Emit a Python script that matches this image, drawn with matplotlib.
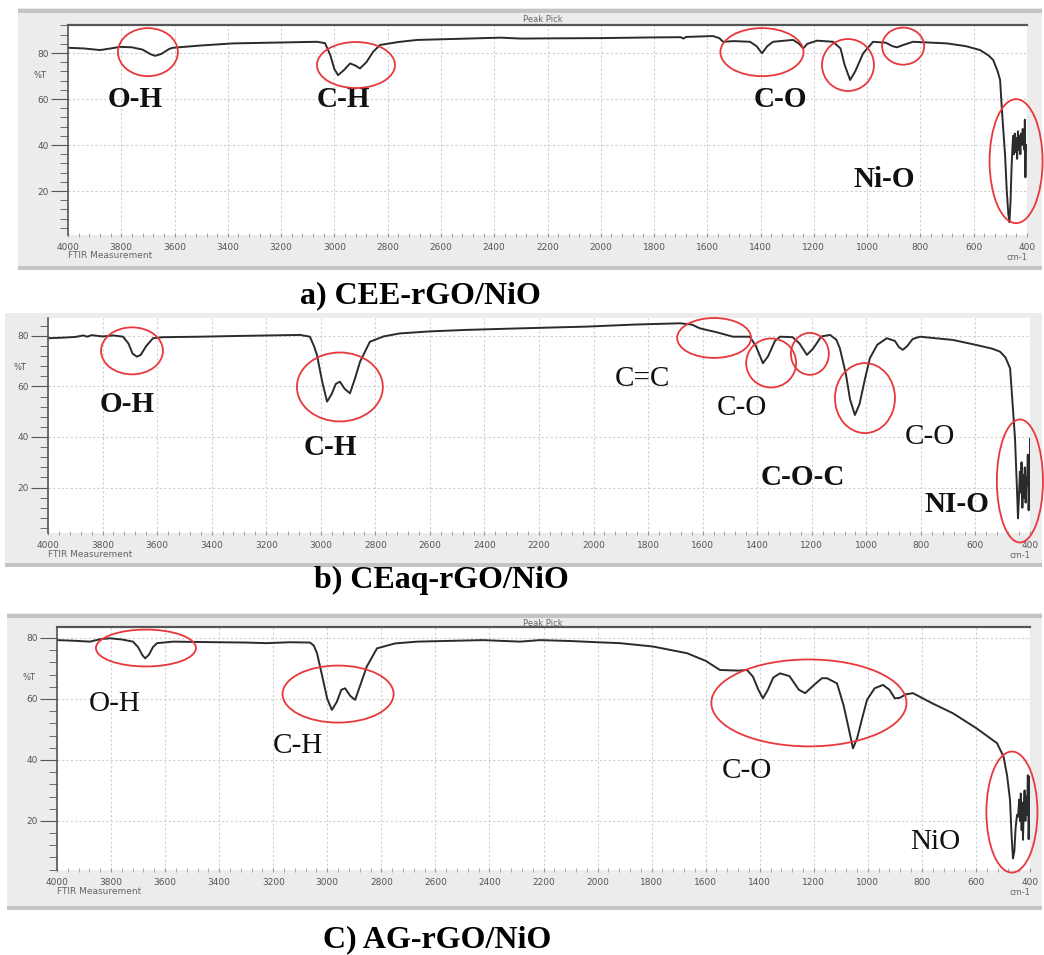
import matplotlib
matplotlib.use("Agg")
import matplotlib.pyplot as plt
from matplotlib.patches import Ellipse, Rectangle
from matplotlib.ticker import MultipleLocator

plt.rcParams["font.family"] = ["DejaVu Sans"]

W, H = 1044, 955

# ---- spectra (wavenumber cm-1, %T) ----
wn_a = [4000, 3940, 3880, 3840, 3805, 3760, 3720, 3690, 3673, 3650, 3620, 3606, 3500, 3380,
        3200, 3065, 3035, 3015, 3000, 2986, 2965, 2941, 2920, 2904, 2880, 2855, 2829, 2760,
        2690, 2500, 2378, 2300, 2179, 2000, 1804, 1700, 1690, 1680, 1579, 1555, 1541, 1500,
        1440, 1415, 1395, 1375, 1353, 1300, 1278, 1255, 1240, 1225, 1188, 1128, 1100, 1085,
        1064, 1045, 1015, 978, 930, 905, 888, 865, 828, 700, 630, 576, 545, 527, 510, 501,
        494, 488, 482, 476, 470, 466, 462, 458, 455, 452, 449, 446, 443, 440, 437, 434, 431,
        428, 425, 422, 419, 416, 413, 410, 408, 406, 404]
t_a = [82.3, 82.0, 81.3, 82.0, 82.7, 82.5, 81.5, 79.5, 78.8, 79.6, 81.8, 82.3, 83.3, 84.2,
       84.6, 84.9, 84.3, 79.0, 73.0, 70.4, 72.5, 75.5, 74.5, 73.3, 76.0, 80.5, 83.5, 84.8,
       85.7, 86.3, 86.7, 86.3, 86.4, 86.5, 86.8, 86.9, 86.3, 87.0, 87.4, 86.5, 84.9, 85.2,
       84.9, 83.0, 79.9, 83.0, 84.9, 85.5, 85.7, 84.0, 82.0, 84.0, 85.4, 84.9, 82.0, 75.0,
       68.3, 72.0, 79.9, 84.9, 84.5, 83.0, 82.5, 83.5, 84.9, 84.2, 83.0, 81.3, 79.0, 77.0,
       72.0, 68.3, 55.0, 45.0, 35.0, 20.0, 10.0, 6.5, 15.0, 30.0, 38.0, 44.0, 36.0, 45.0,
       37.0, 43.0, 34.0, 46.0, 38.0, 44.0, 36.0, 45.0, 40.0, 47.0, 42.0, 38.0, 51.0, 26.0, 40.0]

wn_b = [4000, 3950, 3900, 3870, 3857, 3840, 3800, 3760, 3725, 3705, 3690, 3674, 3660, 3640,
        3615, 3580, 3443, 3300, 3076, 3040, 3025, 3014, 2995, 2977, 2960, 2945, 2930, 2912,
        2893, 2875, 2856, 2820, 2770, 2710, 2600, 2464, 2270, 2024, 1850, 1683, 1640, 1610,
        1550, 1489, 1427, 1405, 1379, 1360, 1335, 1316, 1270, 1245, 1218, 1195, 1165, 1133,
        1110, 1097, 1075, 1060, 1042, 1025, 1005, 987, 960, 925, 895, 880, 866, 850, 830, 803,
        700, 682, 600, 540, 510, 490, 473, 465, 455, 448, 444, 441, 437, 434, 431, 428, 425,
        422, 419, 416, 413, 411, 408, 405, 402, 399, 397]
t_b = [79.1, 79.3, 79.6, 80.2, 79.7, 80.3, 79.8, 80.2, 79.7, 77.0, 73.0, 71.8, 72.5, 76.0,
       79.1, 79.5, 79.7, 80.0, 80.4, 79.7, 76.0, 72.5, 62.0, 54.0, 57.0, 61.0, 61.9, 59.0,
       57.3, 63.0, 69.8, 77.7, 79.8, 81.0, 81.8, 82.4, 83.0, 83.7, 84.5, 85.0, 84.5, 83.0,
       81.5, 79.7, 79.7, 76.0, 69.2, 72.0, 78.0, 79.7, 79.5, 77.0, 72.5, 75.0, 79.8, 80.4,
       78.5, 75.1, 65.0, 55.0, 48.7, 53.0, 63.0, 71.2, 76.5, 79.1, 78.0, 75.5, 74.5, 76.0,
       78.8, 79.7, 78.6, 78.4, 76.5, 75.0, 73.8, 71.5, 67.2, 55.0, 39.5, 20.0, 7.8, 15.0,
       26.3, 18.0, 30.0, 12.0, 25.0, 16.0, 28.0, 14.0, 24.0, 21.0, 33.0, 11.0, 24.0, 39.5, 13.0]

wn_c = [4000, 3940, 3878, 3840, 3804, 3760, 3719, 3700, 3685, 3674, 3660, 3645, 3630, 3571,
        3400, 3300, 3224, 3140, 3064, 3050, 3038, 3020, 3000, 2983, 2965, 2948, 2934, 2915,
        2897, 2880, 2854, 2816, 2750, 2668, 2424, 2287, 2213, 2100, 2000, 1917, 1795, 1669,
        1600, 1547, 1480, 1447, 1425, 1405, 1388, 1370, 1350, 1325, 1290, 1255, 1232, 1200,
        1170, 1151, 1114, 1090, 1070, 1055, 1040, 1020, 1003, 975, 944, 920, 900, 881, 860,
        833, 760, 685, 600, 522, 498, 485, 474, 468, 463, 458, 453, 448, 444, 440, 437, 434,
        431, 428, 426, 423, 420, 417, 414, 411, 408, 405, 402, 400]
t_c = [79.3, 79.1, 78.8, 79.6, 79.9, 79.5, 78.8, 77.0, 74.5, 73.3, 74.5, 77.0, 78.3, 78.8,
       78.6, 78.5, 78.3, 78.6, 78.5, 77.5, 75.0, 68.0, 60.0, 56.4, 59.0, 63.0, 63.5, 61.0,
       59.7, 64.0, 70.6, 76.6, 78.2, 78.8, 79.3, 78.8, 79.3, 79.0, 78.6, 78.3, 77.2, 75.0,
       72.5, 69.5, 69.3, 69.5, 67.3, 63.0, 60.2, 63.0, 67.0, 68.4, 67.5, 63.0, 61.9, 64.5,
       66.8, 66.8, 65.1, 58.0, 50.0, 43.8, 47.0, 54.0, 59.7, 63.5, 64.6, 63.0, 60.2, 60.4,
       61.5, 61.9, 58.5, 55.3, 50.5, 45.5, 41.1, 35.0, 26.9, 15.0, 7.7, 10.0, 18.0, 22.0,
       21.4, 27.0, 20.0, 29.0, 17.0, 26.0, 13.8, 24.0, 30.0, 20.0, 28.0, 22.0, 35.0, 14.0,
       30.0, 34.5]

# ---- band marks: (centre wn, centre %T, width wn, height %T) ----
rings_a = [(3700, 80.4, 225, 20.9), (2919, 74.8, 293, 20.0), (1395, 80.4, 312, 20.9),
           (1072, 74.8, 195, 22.6), (865, 83.0, 158, 16.1), (441, 33.0, 199, 53.9)]
rings_b = [(3692, 74.1, 227, 18.6), (2930, 59.8, 315, 27.3), (1558, 79.2, 271, 15.8),
           (1349, 69.3, 183, 19.4), (1207, 72.9, 139, 16.6), (1005, 55.4, 220, 27.7),
           (437, 22.6, 169, 48.7)]
rings_c = [(3671, 76.7, 370, 12.1), (2960, 61.6, 411, 18.7), (1218, 58.7, 722, 28.5),
           (467, 22.9, 189, 39.7)]

# band labels: (text, wn, %T, bold)
labels_a = [("O-H", 3748, 59.6, True), ("C-H", 2968, 59.6, True),
            ("C-O", 1327, 59.6, True), ("Ni-O", 937, 25.2, True)]
labels_b = [("O-H", 3710, 52.7, True), ("C-H", 2966, 36.0, True),
            ("C=C", 1819, 63.0, False), ("C-O", 1456, 51.5, False),
            ("C-O", 767, 40.0, False), ("C-O-C", 1232, 23.8, True),
            ("NI-O", 668, 13.1, True)]
labels_c = [("O-H", 3785, 58.4, False), ("C-H", 3108, 44.6, False),
            ("C-O", 1447, 36.4, False), ("NiO", 751, 13.1, False)]

captions = ["a) CEE-rGO/NiO", "b) CEaq-rGO/NiO", "C) AG-rGO/NiO"]
xticks = list(range(4000, 399, -200))
yticks = [20, 40, 60, 80]


def box(x0, y0, x1, y1):
    return [x0 / W, 1 - y1 / H, (x1 - x0) / W, (y1 - y0) / H]


fig = plt.figure(figsize=(W / 100, H / 100), dpi=100)


def band(x0, y0, x1, y1, color):
    # flat strip in pixel coordinates, kept underneath the axes
    fig.patches.append(Rectangle((x0 / W, 1 - y1 / H), (x1 - x0) / W, (y1 - y0) / H,
                                 transform=fig.transFigure, facecolor=color,
                                 edgecolor="none", zorder=-5))


def panel(frame, axbox, ylim, wn, t, rings, labels, caption, cap_xy, header):
    fx0, fy0, fx1, fy1 = frame
    # grey instrument window behind the plot
    band(fx0, fy0, fx1, fy1, "#ececec")
    band(fx0, fy1 - 4, fx1, fy1, "#c4c4c4")
    if header:
        band(fx0, fy0 + 1, fx1, fy0 + 5, "#c4c4c4")
        fig.text(543 / W, 1 - (fy0 + 11) / H, "Peak Pick", fontsize=6, color="#666",
                 ha="center", va="center")

    ax = fig.add_axes(box(*axbox))
    ax.set_facecolor("white")
    ax.plot(wn, t, color="#2b2b2b", lw=1.4)
    ax.set_xlim(4000, 400)
    ax.set_ylim(*ylim)

    ax.set_xticks(xticks)
    ax.set_xticklabels([str(v) for v in xticks])
    ax.xaxis.set_minor_locator(MultipleLocator(40))
    ax.set_yticks(yticks)
    ax.yaxis.set_minor_locator(MultipleLocator(4))
    ax.tick_params(axis="x", which="both", direction="inout", length=3, color="#999",
                   labelsize=6.5, labelcolor="#555", pad=4)
    ax.tick_params(axis="y", which="major", direction="out", length=12, color="#555",
                   labelsize=6.5, labelcolor="#555", pad=2)
    ax.tick_params(axis="y", which="minor", direction="out", length=6, color="#555")
    ax.grid(True, which="major", color="#cfcfcf", lw=0.8, ls=(0, (2, 2)))

    for side in ["right", "bottom"]:
        ax.spines[side].set_visible(False)
    ax.spines["left"].set_color("#555")
    ax.spines["left"].set_linewidth(1.2)
    if header:
        ax.spines["top"].set_color("#555")
        ax.spines["top"].set_linewidth(1.6)
    else:
        ax.spines["top"].set_visible(False)

    for cx, cy, w, h in rings:
        ax.add_patch(Ellipse((cx, cy), w, h, fill=False, edgecolor="#e8383b", lw=1.3,
                             clip_on=False, zorder=5))
    for txt, x, y, bold in labels:
        ax.text(x, y, txt, ha="center", va="center", fontsize=21,
                family="Liberation Serif", fontweight="bold" if bold else "normal",
                color="#111")

    ax0, ay0, ax1, ay1 = axbox
    fig.text((ax0 - 28) / W, 1 - (ay0 + 50) / H, "%T", fontsize=6, color="#555",
             ha="center", va="center")
    fig.text(ax0 / W, 1 - (ay1 + 21) / H, "FTIR Measurement", fontsize=6.5, color="#666",
             ha="left", va="center")
    fig.text((ax1 - 10) / W, 1 - (ay1 + 22) / H, "cm-1", fontsize=6, color="#666",
             ha="center", va="center")
    fig.text(cap_xy[0] / W, 1 - cap_xy[1] / H, caption, fontsize=23,
             family="Liberation Serif", fontweight="bold", ha="center", va="center")
    return ax


panel((18, 8, 1042, 270), (68, 25, 1027, 235), (0.9, 92.2), wn_a, t_a,
      rings_a, labels_a, captions[0], (420, 296), True)
panel((5, 313, 1042, 567), (48, 318, 1030, 533), (2.0, 87.1), wn_b, t_b,
      rings_b, labels_b, captions[1], (441, 580), False)
panel((7, 613, 1042, 910), (57, 627, 1030, 870), (3.9, 83.6), wn_c, t_c,
      rings_c, labels_c, captions[2], (437, 940), True)

fig.savefig("out.png", dpi=100, facecolor="white")
